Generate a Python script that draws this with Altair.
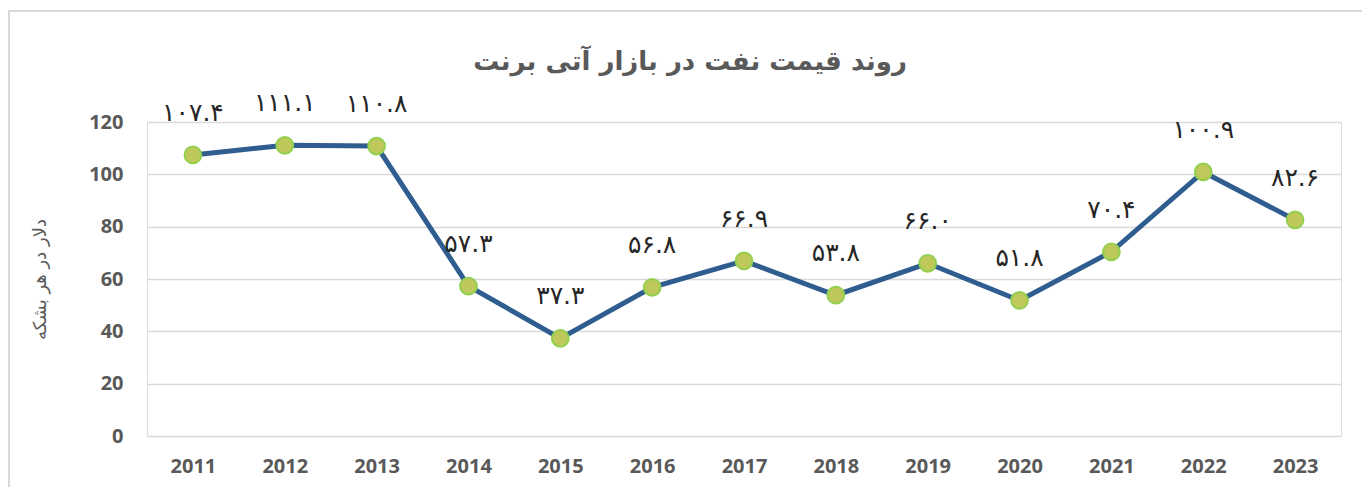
import altair as alt
import pandas as pd

years = ["2011", "2012", "2013", "2014", "2015", "2016", "2017",
         "2018", "2019", "2020", "2021", "2022", "2023"]
prices = [107.4, 111.1, 110.8, 57.3, 37.3, 56.8, 66.9,
          53.8, 66.0, 51.8, 70.4, 100.9, 82.6]
y_ticks = [0, 20, 40, 60, 80, 100, 120]

title_text = "روند قیمت نفت در بازار آتی برنت"
y_title = "دلار در هر بشکه"

fa_digits = str.maketrans("0123456789", "۰۱۲۳۴۵۶۷۸۹")
labels = [f"{v:.1f}".translate(fa_digits) for v in prices]

df = pd.DataFrame({"year": years, "price": prices, "label": labels})

W, H = 1194, 314

x_enc = alt.X("year:N", sort=years, title=None,
              scale=alt.Scale(paddingInner=0, paddingOuter=0.5),
              axis=alt.Axis(labelFont="Open Sans", labelFontSize=20, labelFontWeight="bold",
                            labelColor="#595959", labelPadding=20, ticks=False,
                            domain=False, labelAngle=0, grid=False))
y_enc = alt.Y("price:Q", title=y_title,
              scale=alt.Scale(domain=[0, 120], nice=False, zero=True),
              axis=alt.Axis(values=y_ticks, labelFont="Open Sans", labelFontSize=20,
                            labelFontWeight="bold", labelColor="#595959", labelPadding=24,
                            ticks=False, domain=False, gridColor="#D9D9D9", gridWidth=1.5,
                            titleFont="DejaVu Sans", titleFontSize=18, titleFontWeight="normal",
                            titleColor="#595959", titleX=-107, titleAngle=-90,
                            titleBaseline="middle"))

base = alt.Chart(df)

line = base.mark_line(color="#2F5D8F", strokeWidth=5).encode(x=x_enc, y=y_enc)
points = base.mark_point(filled=True, size=280, fill="#BFC85A", stroke="#92D050",
                         strokeWidth=2, opacity=1).encode(x=x_enc, y=y_enc)
text = base.mark_text(font="DejaVu Sans", fontSize=25, fontWeight="normal", color="#262626",
                      dy=-42, baseline="middle").encode(x=x_enc, y=y_enc, text="label:N")

one = pd.DataFrame({"t": [title_text]})
title_mark = alt.Chart(one).mark_text(font="DejaVu Sans", fontSize=26, fontWeight="bold",
                                      color="#595959", align="center", baseline="middle").encode(
    x=alt.value(543), y=alt.value(-60), text="t:N")

border_df = pd.DataFrame({"k": [0]})
top_border = alt.Chart(border_df).mark_rule(color="#D9D9D9", strokeWidth=2).encode(
    x=alt.value(-139), x2=alt.value(1230), y=alt.value(-111))
left_border = alt.Chart(border_df).mark_rule(color="#D9D9D9", strokeWidth=2).encode(
    x=alt.value(-138), y=alt.value(-111), y2=alt.value(400))

chart = alt.layer(line, points, text, title_mark, top_border, left_border).properties(
    width=W, height=H,
    autosize=alt.AutoSizeParams(type="none"),
    padding={"left": 139, "top": 114, "right": 21, "bottom": 51},
).configure_view(stroke=None).configure(background="white")

chart.save("out.html", embed_options={"renderer": "svg", "actions": False})
